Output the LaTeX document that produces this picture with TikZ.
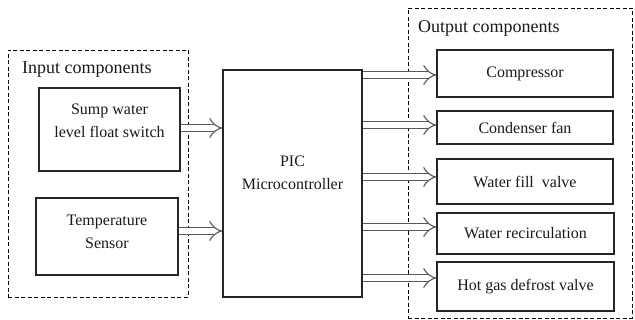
\documentclass[tikz,border=0pt]{standalone}
\usepackage{fontspec}
\setmainfont{Liberation Serif}
\usetikzlibrary{arrows.meta,calc}
\begin{document}
\begin{tikzpicture}[x=1pt,y=1pt,
  blk/.style={draw=black!85, line width=1.2pt, rectangle, inner sep=0pt},
  grp/.style={draw=black, line width=0.9pt, dash pattern=on 4pt off 2.5pt, rectangle, inner sep=0pt},
  txt/.style={font=\fontsize{16}{23}\selectfont, align=center, inner sep=0pt, text=black!90},
  ttl/.style={font=\fontsize{18}{22}\selectfont, inner sep=0pt, anchor=west, text=black!90},
  link/.style={draw=black!65, line width=1.1pt, double=white, double distance=6pt, -{Implies}}
]
\useasboundingbox (0,0) rectangle (635,320);
% groups
\node[grp, minimum width=180pt, minimum height=247pt] (ingrp) at (98,146.5) {};
\node[grp, minimum width=224pt, minimum height=310pt] (outgrp) at (520,157) {};
\node[ttl] (intitle) at (22,250) {Input components};
\node[ttl] (outtitle) at (418,292) {Output components};
% inputs
\node[blk, minimum width=141pt, minimum height=83pt] (sump) at (109.5,190.5) {};
\node[txt] (sumptxt) at ($(sump.center)+(0,9)$) {Sump water\\level float switch};
\node[blk, minimum width=142pt, minimum height=77pt] (temp) at (107,83.5) {};
\node[txt] (temptxt) at ($(temp.center)+(0,5)$) {Temperature\\Sensor};
% controller
\node[blk, minimum width=139pt, minimum height=227pt] (pic) at (292.5,136.5) {};
\node[txt] (pictxt) at ($(pic.center)+(0,11)$) {PIC\\Microcontroller};
% outputs
\node[blk, minimum width=176pt, minimum height=47pt, txt] (comp) at (525,246.5) {\raisebox{3pt}{Compressor}};
\node[blk, minimum width=176pt, minimum height=33pt, txt] (cond) at (525,192.5) {Condenser fan};
\node[blk, minimum width=176pt, minimum height=45pt, txt] (fill) at (525,138.5) {Water fill\ \ valve};
\node[blk, minimum width=177pt, minimum height=41pt, txt] (recirc) at (525.5,86.5) {Water recirculation};
\node[blk, minimum width=177pt, minimum height=49pt, txt] (hot) at (525.5,33.5) {\raisebox{3pt}{Hot gas defrost valve}};
% links
\draw[link] ([yshift=1.5pt]sump.east) -- ([yshift=1.5pt]sump.east -| pic.west);
\draw[link] ([yshift=5.5pt]temp.east) -- ([yshift=5.5pt]temp.east -| pic.west);
\draw[link] ([yshift=-1.5pt]comp.west -| pic.east) -- ([yshift=-1.5pt]comp.west);
\draw[link] ([yshift=2.5pt]cond.west -| pic.east) -- ([yshift=2.5pt]cond.west);
\draw[link] ([yshift=4.5pt]fill.west -| pic.east) -- ([yshift=4.5pt]fill.west);
\draw[link] ([yshift=6.5pt]recirc.west -| pic.east) -- ([yshift=6.5pt]recirc.west);
\draw[link] ([yshift=8.5pt]hot.west -| pic.east) -- ([yshift=8.5pt]hot.west);
\end{tikzpicture}
\end{document}
